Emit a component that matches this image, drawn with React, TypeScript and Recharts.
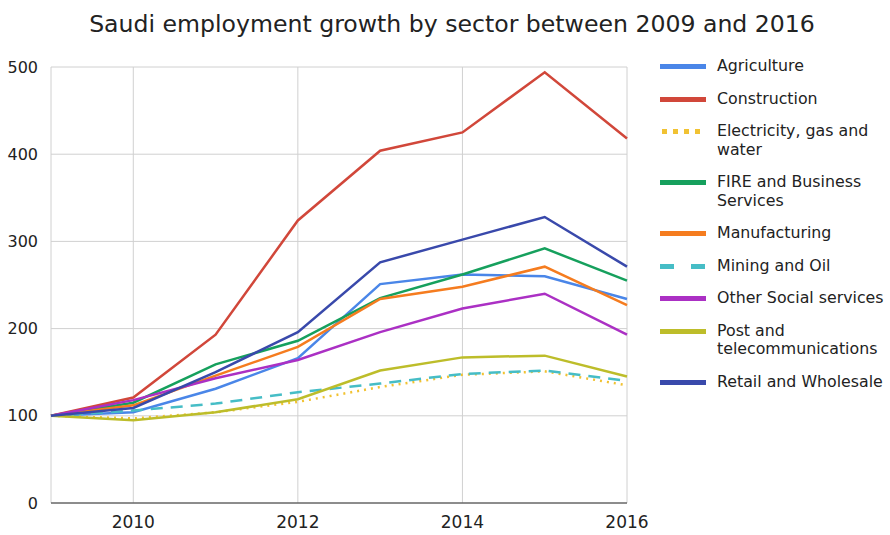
import React from 'react';
import { LineChart, Line, XAxis, YAxis, CartesianGrid } from 'recharts';

const years = [2009, 2010, 2011, 2012, 2013, 2014, 2015, 2016];

const agriculture = [100, 104, 131, 166, 251, 262, 260, 234];
const construction = [100, 121, 193, 324, 404, 425, 494, 418];
const electricity = [100, 97, 104, 116, 133, 147, 151, 135];
const fire = [100, 115, 159, 186, 235, 262, 292, 255];
const manufacturing = [100, 112, 146, 179, 234, 248, 271, 227];
const mining = [100, 106, 114, 127, 137, 148, 152, 140];
const otherSocial = [100, 118, 143, 164, 196, 223, 240, 193];
const post = [100, 95, 104, 119, 152, 167, 169, 145];
const retail = [100, 109, 150, 196, 276, 302, 328, 271];

const xTicks = [2010, 2012, 2014, 2016];
const yTicks = [0, 100, 200, 300, 400, 500];

const series = [
  { key: 'agriculture', name: 'Agriculture', values: agriculture, color: '#4a86e8', dash: undefined },
  { key: 'construction', name: 'Construction', values: construction, color: '#d1473a', dash: undefined },
  { key: 'electricity', name: 'Electricity, gas and water', values: electricity, color: '#f1c232', dash: '2 5' },
  { key: 'fire', name: 'FIRE and Business Services', values: fire, color: '#16a05d', dash: undefined },
  { key: 'manufacturing', name: 'Manufacturing', values: manufacturing, color: '#f57c1f', dash: undefined },
  { key: 'mining', name: 'Mining and Oil', values: mining, color: '#46bdc6', dash: '12 8' },
  { key: 'otherSocial', name: 'Other Social services', values: otherSocial, color: '#ab30c4', dash: undefined },
  { key: 'post', name: 'Post and telecommunications', values: post, color: '#bdbd2a', dash: undefined },
  { key: 'retail', name: 'Retail and Wholesale', values: retail, color: '#3949ab', dash: undefined },
];

const data = years.map((year, i) => {
  const row: Record<string, number> = { year };
  series.forEach((s) => {
    row[s.key] = s.values[i];
  });
  return row;
});

const FONT = '"DejaVu Sans", Verdana, sans-serif';

const LegendBox = () => (
  <div
    style={{
      position: 'absolute',
      left: 660,
      top: 57,
      width: 232,
      display: 'flex',
      flexDirection: 'column',
      gap: 14,
      fontFamily: FONT,
      fontSize: 15.8,
      lineHeight: '18.5px',
      color: '#222',
    }}
  >
    {series.map((s) => (
      <div key={s.key} style={{ display: 'flex', alignItems: 'flex-start' }}>
        <svg width={46} height={18} style={{ flexShrink: 0, marginRight: 11 }}>
          <line
            x1={s.dash === '2 5' ? 2 : 0}
            x2={46}
            y1={9.5}
            y2={9.5}
            stroke={s.color}
            strokeWidth={5}
            strokeDasharray={s.dash === '2 5' ? '5 6' : s.dash ? '14 17' : undefined}
          />
        </svg>
        <span style={{ width: 175, whiteSpace: 'normal' }}>{s.name}</span>
      </div>
    ))}
  </div>
);

export default function App() {
  return (
    <div style={{ position: 'absolute', left: 0, top: 0, width: 890, height: 535, background: '#fff' }}>
      <div
        style={{
          position: 'absolute',
          left: 0,
          top: 10,
          width: 904,
          textAlign: 'center',
          fontFamily: FONT,
          fontSize: 23.6,
          color: '#222',
        }}
      >
        Saudi employment growth by sector between 2009 and 2016
      </div>
      <div style={{ position: 'absolute', left: 0, top: 0 }}>
        <LineChart width={890} height={535} data={data} margin={{ top: 67, right: 263, bottom: 0, left: 0 }}>
          <CartesianGrid stroke="#d0d0d0" vertical horizontal />
          <XAxis
            dataKey="year"
            type="number"
            domain={[2009, 2016]}
            ticks={xTicks}
            height={32}
            tickLine={false}
            tickSize={0}
            tickMargin={13}
            axisLine={{ stroke: '#333', strokeWidth: 1 }}
            tick={{ fill: '#222', fontSize: 17, fontFamily: FONT }}
          />
          <YAxis
            domain={[0, 500]}
            ticks={yTicks}
            width={51}
            axisLine={false}
            tickLine={false}
            tickSize={0}
            tickMargin={13}
            tick={{ fill: '#222', fontSize: 16, fontFamily: FONT }}
          />
          {series.map((s) => (
            <Line
              key={s.key}
              dataKey={s.key}
              name={s.name}
              stroke={s.color}
              strokeWidth={2.5}
              strokeDasharray={s.dash}
              dot={false}
              activeDot={false}
              isAnimationActive={false}
            />
          ))}
        </LineChart>
      </div>
      <LegendBox />
    </div>
  );
}
